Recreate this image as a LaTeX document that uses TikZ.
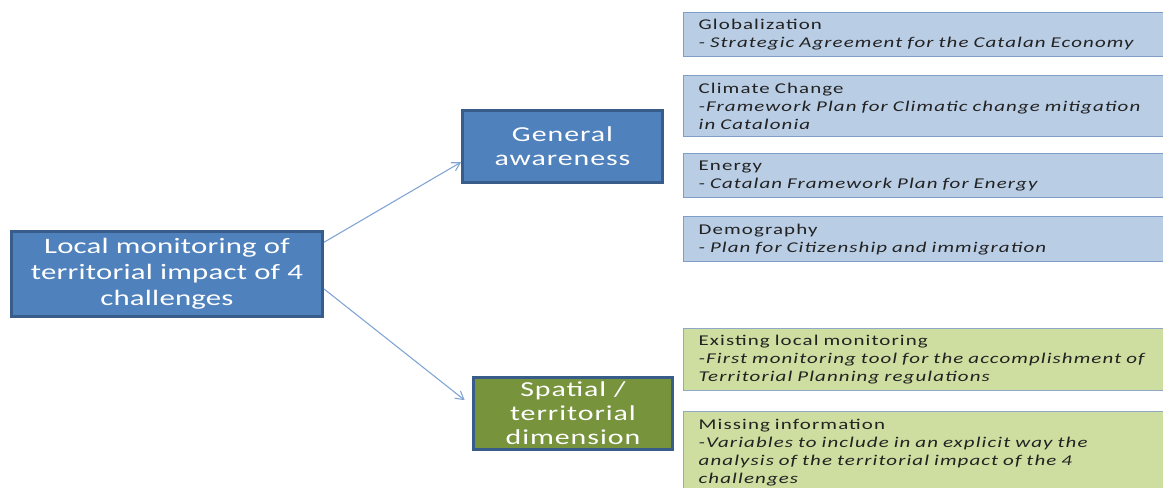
\documentclass[tikz,border=0pt]{standalone}
\usepackage{fontspec}
\setmainfont{Carlito}[FakeStretch=1.4,LetterSpace=7.5]
\newfontfamily\bigfont{Carlito}[FakeStretch=1.4,LetterSpace=1]
\newfontfamily\midfont{Carlito}[FakeStretch=1.4,LetterSpace=4.5]
\usetikzlibrary{arrows.meta,calc}
\definecolor{dblue}{HTML}{4F81BD}
\definecolor{dborder}{HTML}{385D8A}
\definecolor{olive}{HTML}{77933C}
\definecolor{lblue}{HTML}{B9CDE5}
\definecolor{lbborder}{HTML}{7F9DC9}
\definecolor{lgreen}{HTML}{CDDEA0}
\definecolor{lgborder}{HTML}{8FA8C8}
\definecolor{arrowc}{HTML}{7FA3D3}
\definecolor{txt}{HTML}{222222}
\tikzset{
  bigbox/.style={draw=dborder, line width=2.2pt, fill=dblue, text=white, align=center, inner sep=0pt},
  infobox/.style={draw=lbborder, line width=1pt, fill=lblue, text=txt, align=left, anchor=north west,
    minimum width=500*0.75pt, text width=470*0.75pt, inner xsep=14*0.75pt, inner ysep=0pt,
    font=\fontsize{11.2}{13.5}\selectfont},
  greenbox/.style={infobox, fill=lgreen, draw=lgborder},
  conn/.style={draw=arrowc, line width=0.8pt, -{Straight Barb[length=6pt,width=7pt]}}
}
\begin{document}
\begin{tikzpicture}[x=0.75pt,y=-0.75pt]
\useasboundingbox (0,0) rectangle (1163,488);
\clip (0,0) rectangle (1163,488);
\node[bigbox, minimum width=311*0.75pt, minimum height=85*0.75pt, anchor=north west,
  font=\bigfont\fontsize{16.5}{19.5}\selectfont] (main) at (10,230)
  {Local monitoring of\\territorial impact of 4\\challenges};
\node[bigbox, minimum width=200*0.75pt, minimum height=72*0.75pt, anchor=north west,
  font=\midfont\fontsize{16}{18}\selectfont] (ga) at (461,109)
  {General\\awareness};
\node[bigbox, fill=olive, minimum width=199*0.75pt, minimum height=72*0.75pt, anchor=north west,
  font=\midfont\fontsize{16}{18}\selectfont] (sp) at (472,376)
  {Spatial /\\territorial\\dimension};
\node[infobox, minimum height=44*0.75pt] (glob) at (683,12)
  {Globalization\\\textit{- Strategic Agreement for the Catalan Economy}};
\node[infobox, minimum height=61*0.75pt] (clim) at (683,75)
  {Climate Change\\\textit{-Framework Plan for Climatic change mitigation}\\\textit{in Catalonia}};
\node[infobox, minimum height=44*0.75pt] (ener) at (683,153)
  {Energy\\\textit{- Catalan Framework Plan for Energy}};
\node[infobox, minimum height=45*0.75pt] (demo) at (683,216)
  {Demography\\\textit{- Plan for Citizenship and immigration}};
\node[greenbox, minimum height=62*0.75pt] (exist) at (683,328)
  {Existing local monitoring\\\textit{-First monitoring tool for the accomplishment of}\\\textit{Territorial Planning regulations}};
\node[greenbox, minimum height=82*0.75pt] (miss) at (683,411)
  {Missing information\\\textit{-Variables to include in an explicit way the}\\\textit{analysis of\ the territorial impact of the 4}\\\textit{challenges}};
\draw[conn] ($(main.north east)!0.14!(main.south east)$) -- ($(ga.north west)!0.71!(ga.south west)$);
\draw[conn, shorten >=7pt] ($(main.north east)!0.67!(main.south east)$) -- ($(sp.north west)!0.4!(sp.south west)$);
\end{tikzpicture}
\end{document}
